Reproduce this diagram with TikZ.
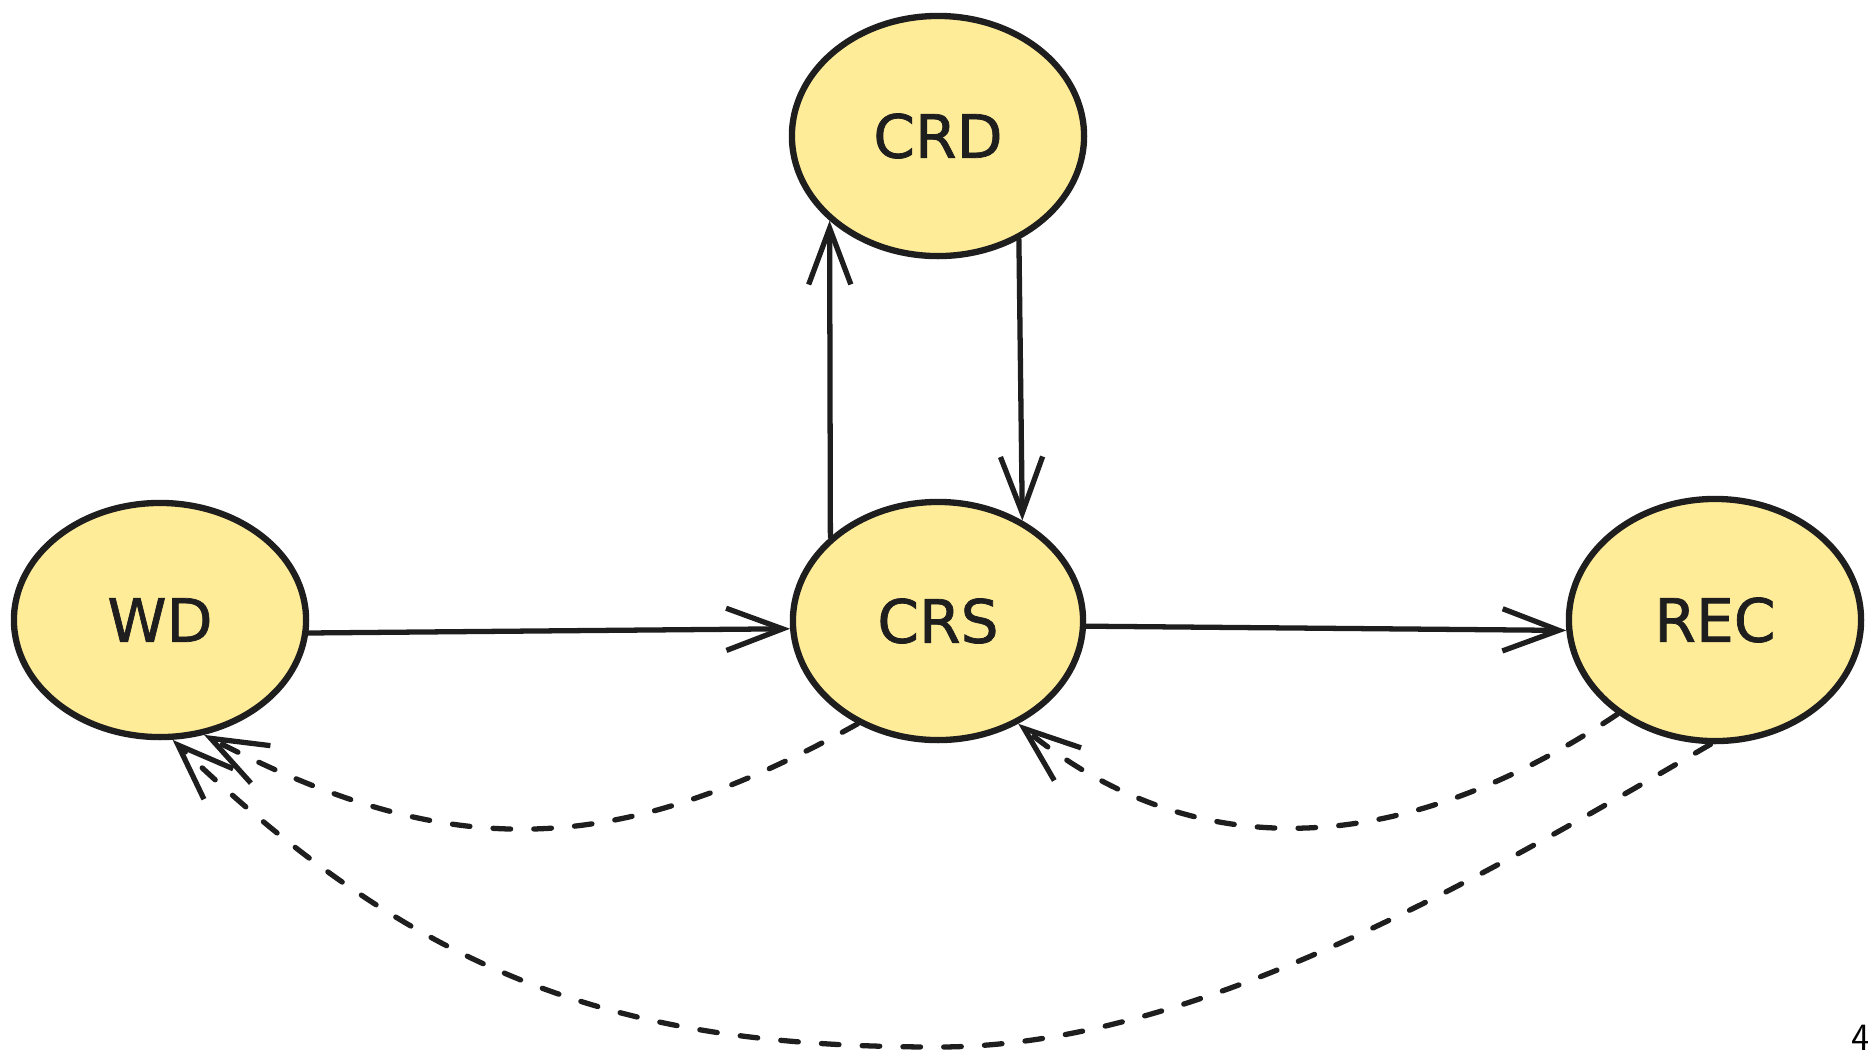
\documentclass[tikz,border=0pt]{standalone}
\usepackage{fontspec}
\newfontfamily\handfont[FakeBold=1.2]{DejaVu Sans}
\usetikzlibrary{shapes.geometric,arrows.meta}
\definecolor{ink}{HTML}{1E1E1E}
\definecolor{pale}{HTML}{FFEC99}
\begin{document}
\begin{tikzpicture}[x=0.01cm,y=-0.01cm,
  state/.style={ellipse, draw=ink, fill=pale, line width=1.8pt, inner sep=0pt,
    font=\handfont\fontsize{17}{20}\selectfont, text=ink},
  link/.style={draw=ink, line width=1.5pt, line cap=round,
    -{Straight Barb[length=16pt,width=12pt,line width=1.5pt]}},
  back/.style={link, dash pattern=on 5pt off 6.6pt},
  pagenum/.style={font=\sffamily\fontsize{11}{12}\selectfont, inner sep=0pt, text=black}]
\useasboundingbox (0,0) rectangle (1868,1053);

\node[state, minimum width=2.92cm, minimum height=2.40cm] (CRD) at (938,136) {CRD};
\node[state, minimum width=2.92cm, minimum height=2.34cm] (WD)  at (160,620) {WD};
\node[state, minimum width=2.90cm, minimum height=2.38cm] (CRS) at (938,621) {CRS};
\node[state, minimum width=2.92cm, minimum height=2.42cm] (REC) at (1715,620) {REC};

\draw[link] (WD.-5) -- (CRS.183);
\draw[link] (CRS.-2) -- (REC.184);
\draw[link] (CRS.142) -- (CRD.218);
\draw[link] (CRD.-52) -- (CRS.50);

\draw[back] (CRS.232) .. controls (611,861) and (448,862) .. (WD.-69);
\draw[back] (REC.224) .. controls (1396,862) and (1191,865) .. (CRS.-52);
\draw[back] (REC.-92) .. controls (1462,889) and (1188,1047) .. (938,1047)
                      .. controls (638,1047) and (432,989) .. (WD.-84);

\node[pagenum, anchor=base west] (pg) at (1851,1050) {4};
\end{tikzpicture}
\end{document}
